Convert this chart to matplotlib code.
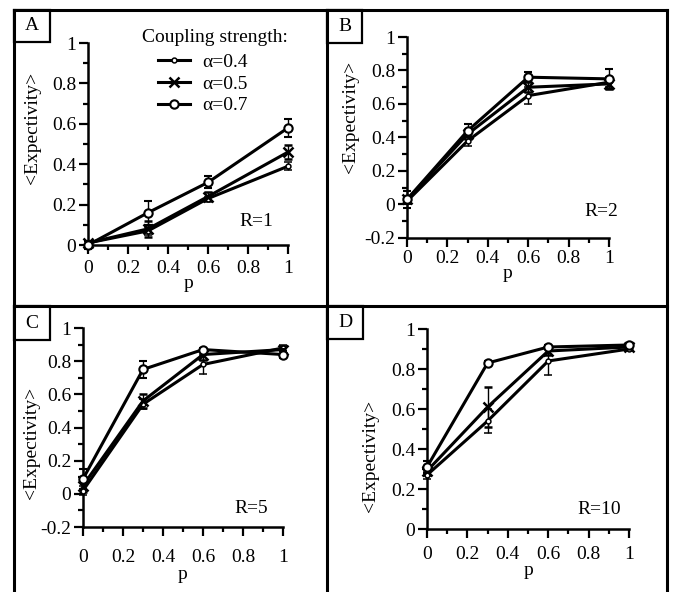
import numpy as np
import matplotlib
matplotlib.use('agg')
import matplotlib.pyplot as plt
from matplotlib.lines import Line2D
from matplotlib.patches import Rectangle

plt.rcParams['font.family'] = ['Liberation Serif', 'DejaVu Serif']

W, H = 673, 592

# data
p = [0, 0.3, 0.6, 1.0]
alphas = ['0.4', '0.5', '0.7']

A_vals = [[0.01, 0.07, 0.23, 0.39], [0.01, 0.08, 0.24, 0.46], [0.00, 0.16, 0.31, 0.58]]
A_errs = [[0.01, 0.02, 0.01, 0.02], [0.01, 0.04, 0.02, 0.035], [0.02, 0.06, 0.03, 0.045]]
B_vals = [[0.02, 0.38, 0.65, 0.73], [0.03, 0.42, 0.70, 0.72], [0.03, 0.44, 0.76, 0.75]]
B_errs = [[0.02, 0.03, 0.05, 0.03], [0.02, 0.03, 0.03, 0.03], [0.05, 0.04, 0.03, 0.06]]
C_vals = [[0.02, 0.54, 0.78, 0.88], [0.05, 0.56, 0.84, 0.87], [0.09, 0.75, 0.87, 0.84]]
C_errs = [[0.03, 0.03, 0.06, 0.02], [0.04, 0.04, 0.03, 0.02], [0.06, 0.05, 0.01, 0.02]]
D_vals = [[0.27, 0.54, 0.84, 0.90], [0.29, 0.61, 0.89, 0.91], [0.31, 0.83, 0.91, 0.92]]
D_errs = [[0.02, 0.06, 0.07, 0.01], [0.02, 0.10, 0.02, 0.01], [0.03, 0.01, 0.01, 0.01]]

# letter, R text, values, errors, ylim, axes box (px), letter box (px),
# R position, ylabel position, x tick pad (pt), xlabel pad (pt)
panels = [
    ('A', 'R=1', A_vals, A_errs, (0, 1), (88, 43, 288, 245), (14, 10, 50, 42),
     (0.925, 0.115), (-0.235, 0.58), 2, -1),
    ('B', 'R=2', B_vals, B_errs, (-0.2, 1), (407, 37, 609, 238), (327, 10, 362, 43),
     (1.045, 0.13), (-0.238, 0.60), 0, -1),
    ('C', 'R=5', C_vals, C_errs, (-0.2, 1), (83, 328, 283, 527), (14, 306, 50, 340),
     (0.925, 0.095), (-0.215, 0.42), 7, 0),
    ('D', 'R=10', D_vals, D_errs, (0, 1), (427, 329, 629, 529), (327, 306, 363, 339),
     (0.96, 0.10), (-0.238, 0.365), 4, -1),
]

markers = [dict(marker='o', ms=3.5, mfc='white', mew=1.1),
           dict(marker='x', ms=6.5, mew=1.8),
           dict(marker='o', ms=6, mfc='white', mew=1.5)]
FS = 14


def rect(x0, y0, x1, y1):
    return [x0 / W, 1 - y1 / H, (x1 - x0) / W, (y1 - y0) / H]


def fmt(v):
    return '%g' % round(v, 1)


fig = plt.figure(figsize=(W / 100, H / 100), dpi=100)

for letter, rtext, vals, errs, ylim, box, lbox, rpos, ylpos, xpad, xlpad in panels:
    ax = fig.add_axes(rect(*box))
    for k in range(3):
        ax.errorbar(p, vals[k], yerr=errs[k], color='black', lw=2.2, capsize=3,
                    elinewidth=1.0, capthick=1.0, clip_on=False, zorder=3, **markers[k])
    ax.set_xlim(0, 1)
    ax.set_ylim(*ylim)
    for s in ['top', 'right']:
        ax.spines[s].set_visible(False)
    for s in ['left', 'bottom']:
        ax.spines[s].set_linewidth(1.8)
    ax.set_xticks([0, 0.2, 0.4, 0.6, 0.8, 1])
    ax.set_xticklabels([fmt(v) for v in [0, 0.2, 0.4, 0.6, 0.8, 1]])
    ax.set_xticks(np.arange(0.1, 1, 0.2), minor=True)
    yt = np.round(np.arange(ylim[0], 1.01, 0.2), 1)
    ax.set_yticks(yt)
    ax.set_yticklabels([fmt(v) for v in yt])
    ax.set_yticks(np.round(np.arange(ylim[0] + 0.1, 1, 0.2), 1), minor=True)
    ax.tick_params(which='major', length=6.5, width=1.6, labelsize=FS, pad=2)
    ax.tick_params(which='minor', length=3.5, width=1.6)
    ax.tick_params(axis='x', which='major', pad=2 + xpad)
    ax.set_xlabel('p', fontsize=FS, labelpad=xlpad)
    ax.set_ylabel('<Expectivity>', fontsize=FS)
    ax.yaxis.set_label_coords(*ylpos)
    ax.patch.set_alpha(0)
    ax.text(rpos[0], rpos[1], rtext, transform=ax.transAxes, ha='right', va='center',
            fontsize=FS)
    if letter == 'A':
        ax.text(0.27, 1.025, 'Coupling strength:', transform=ax.transAxes, ha='left',
                va='center', fontsize=FS)
        handles = [Line2D([], [], color='black', lw=2.2, **markers[k]) for k in range(3)]
        ax.legend(handles, ['\u03b1=' + a for a in alphas], loc='upper left',
                  bbox_to_anchor=(0.35, 0.95), frameon=False, fontsize=FS,
                  handlelength=1.65, handletextpad=0.65, labelspacing=0.22,
                  borderaxespad=0, borderpad=0)
    # letter box
    x0, y0, x1, y1 = lbox
    fig.patches.append(Rectangle((x0 / W, 1 - y1 / H), (x1 - x0) / W, (y1 - y0) / H,
                                 transform=fig.transFigure, fill=False, lw=1.6,
                                 edgecolor='black'))
    fig.text((x0 + x1) / 2 / W, 1 - (y0 + y1) / 2 / H, letter, ha='center', va='center',
             fontsize=FS)

# outer frame and dividers
frame = [((14, 14), (10, 592)), ((667, 667), (10, 592)), ((14, 667), (10, 10)),
         ((327, 327), (10, 592)), ((14, 667), (306, 306))]
for xs, ys in frame:
    fig.lines.append(Line2D([x / W for x in xs], [1 - y / H for y in ys],
                            transform=fig.transFigure, color='black', lw=2.2))

fig.savefig('out.png', dpi=100)
